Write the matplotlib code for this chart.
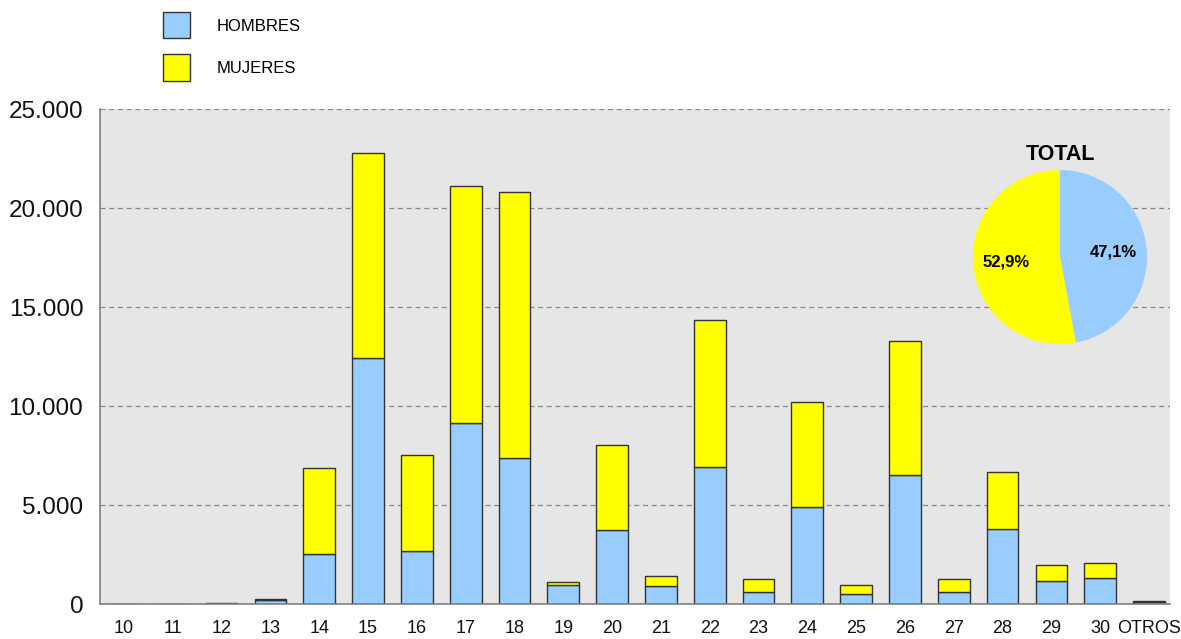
import numpy as np
import matplotlib
matplotlib.use('Agg')
import matplotlib.pyplot as plt

plt.rcParams['font.family'] = ['Liberation Sans', 'DejaVu Sans']

# data
categorias = ['10', '11', '12', '13', '14', '15', '16', '17', '18', '19', '20',
              '21', '22', '23', '24', '25', '26', '27', '28', '29', '30', 'OTROS']
hombres = [0, 0, 50, 230, 2570, 12460, 2690, 9140, 7390, 960, 3780,
           935, 6950, 650, 4910, 525, 6510, 650, 3810, 1180, 1350, 110]
mujeres = [0, 0, 30, 40, 4320, 10300, 4870, 11970, 13400, 165, 4270,
           490, 7380, 655, 5330, 445, 6780, 655, 2880, 790, 760, 50]
series = ['HOMBRES', 'MUJERES']
pie_pct = [47.1, 52.9]
yticks = [0, 5000, 10000, 15000, 20000, 25000]
ytick_labels = ['0', '5.000', '10.000', '15.000', '20.000', '25.000']

azul = '#99ccff'
amarillo = '#ffff00'
borde = '#333333'

fig = plt.figure(figsize=(11.81, 6.39), dpi=100)
ax = fig.add_axes([0.0847, 0.054, 0.906, 0.7754])
ax.set_facecolor('#e6e6e6')

x = np.arange(len(categorias))
b1 = ax.bar(x, hombres, width=0.65, color=azul, edgecolor=borde, linewidth=1.0,
            label=series[0], zorder=3)
b2 = ax.bar(x, mujeres, width=0.65, bottom=hombres, color=amarillo, edgecolor=borde,
            linewidth=1.0, label=series[1], zorder=3)

ax.set_xlim(-0.49, 21.43)
ax.set_ylim(0, 25000)
ax.set_yticks(yticks)
ax.set_yticklabels(ytick_labels)
ax.set_xticks(x)
ax.set_xticklabels(categorias)
ax.tick_params(axis='y', length=0, pad=12, labelsize=17.5, colors='#111111')
ax.tick_params(axis='x', length=0, pad=11, labelsize=13, colors='#111111')

ax.grid(axis='y', linestyle=(0, (4, 3)), color='#888888', linewidth=0.9, zorder=0)
ax.set_axisbelow(True)
for s in ['top', 'right']:
    ax.spines[s].set_visible(False)
for s in ['left', 'bottom']:
    ax.spines[s].set_color('#808080')
    ax.spines[s].set_linewidth(1.2)
    ax.spines[s].set_zorder(4)

# legend at the top left
fig.legend(handles=[b1, b2], labels=series, loc='upper left',
           bbox_to_anchor=(0.138, 0.981), frameon=False, fontsize=12,
           borderpad=0, borderaxespad=0, handlelength=1.62, handleheight=2.05,
           handletextpad=1.6, labelspacing=0.95)

# pie with the totals
pax = fig.add_axes([(1060 - 87) / 1181, (639 - 344) / 639, 174 / 1181, 174 / 639])
wedges, _, autot = pax.pie(pie_pct, colors=[azul, amarillo], startangle=90,
                           counterclock=False, autopct='%.1f%%', pctdistance=0.62,
                           wedgeprops=dict(linewidth=0))
for t, v in zip(autot, pie_pct):
    t.set_text(('%.1f%%' % v).replace('.', ','))
    t.set_fontsize(12)
    t.set_fontweight('bold')
pax.set_xlim(-1, 1)
pax.set_ylim(-1, 1)
pax.set_aspect('equal')
fig.text(1060 / 1181, 1 - 155 / 639, 'TOTAL', ha='center', va='center',
         fontsize=15.5, fontweight='bold')

fig.savefig('out.png', dpi=100)
